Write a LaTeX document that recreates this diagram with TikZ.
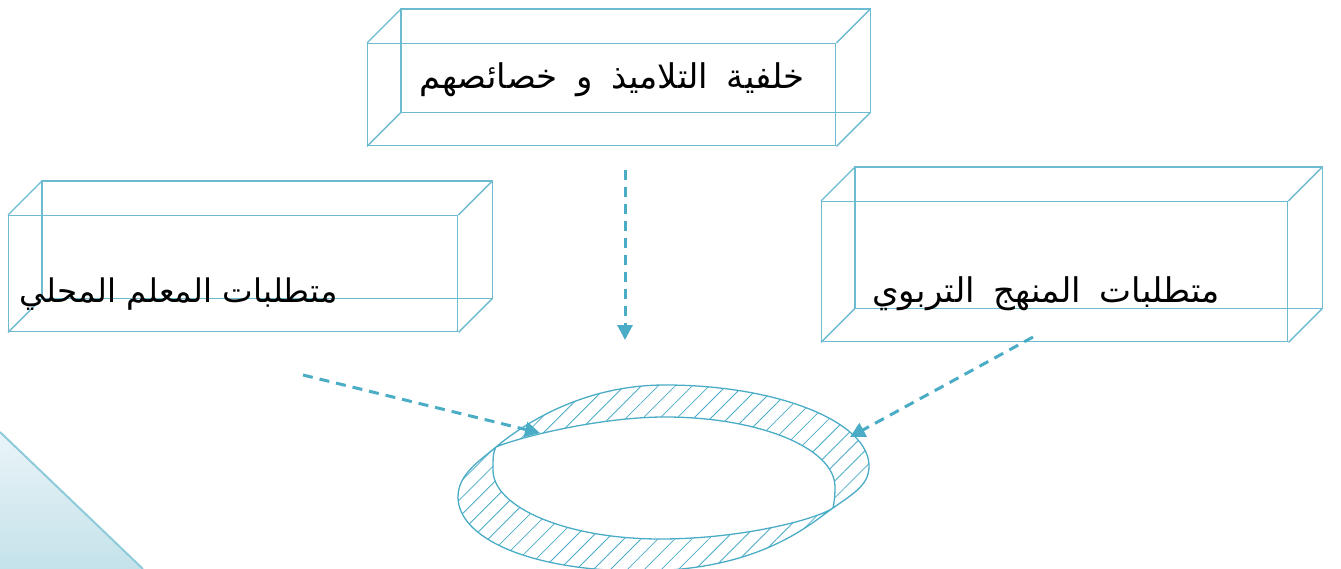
\documentclass[tikz,border=0pt]{standalone}
\usepackage{fontspec}
\newfontfamily\arabicfont[Script=Arabic]{DejaVu Sans}
\TeXXeTstate=1
\usetikzlibrary{arrows.meta,patterns.meta,calc}
\definecolor{acc}{HTML}{4BACC6}
\definecolor{edgec}{HTML}{6CBBD1}
\definecolor{triA}{HTML}{EAF4F8}
\definecolor{triB}{HTML}{C4E2EA}
\definecolor{triE}{HTML}{8DCBDA}
\newcommand\prismbox[5]{% name, x, y, w, h
  \node[boxface, minimum width=#4pt, minimum height=#5pt, anchor=north west] (#1) at (#2,#3) {};
  \draw[boxedge] ($(#1.north west)+(34,-34)$) rectangle ($(#1.south east)+(34,-34)$);
  \foreach \c in {north west,north east,south west,south east}
    \draw[boxedge] (#1.\c) -- ($(#1.\c)+(34,-34)$);
}
\newcommand\wgap{\hspace{0.55em}}
\begin{document}
\begin{tikzpicture}[x=1pt,y=-1pt,
  boxface/.style={draw=edgec, line width=1.4pt, inner sep=0pt, fill=none},
  boxedge/.style={draw=edgec, line width=1.4pt},
  label/.style={font=\arabicfont\fontsize{34}{40}\selectfont, inner sep=0pt, anchor=base east},
  flow/.style={draw=acc, line width=3pt, dash pattern=on 10pt off 7pt, -{Triangle[length=15pt,width=15pt]}},
  ringline/.style={draw=acc, line width=1.3pt}]
\useasboundingbox (0,0) rectangle (1341,569);
% corner triangle
\shade[top color=triA, bottom color=triB] (0,432) -- (143,569) -- (0,569) -- cycle;
\draw[triE, line width=2pt] (0,432) -- (143,569);
% boxes
\prismbox{topbox}{367}{43}{468}{102}
\prismbox{leftbox}{8}{215}{449}{116}
\prismbox{rightbox}{821}{201}{466}{140}
% texts
\node[label] (toptext) at (805,89) {\beginR خلفية\wgap التلاميذ\wgap و\wgap خصائصهم\endR};
\node[label, font=\arabicfont\fontsize{32.5}{38}\selectfont] (lefttext) at (338,302) {\beginR متطلبات المعلم المحلي\endR};
\node[label] (righttext) at (1220,302) {\beginR متطلبات\wgap المنهج\wgap التربوي\endR};
% ring: twisted hatched band
\path[ringline, pattern={Lines[angle=45,distance=12pt,line width=0.8pt]}, pattern color=acc, even odd rule]
  % outer edge
  (665,385) .. controls (778,385) and (869,422) .. (869,466)
  .. controls (869,484) and (856,492) .. (833,508)
  .. controls (810,524) and (760,571) .. (640,571)
  .. controls (530,571) and (458,538) .. (458,497)
  .. controls (458,475) and (478,462) .. (496,447)
  .. controls (514,432) and (575,385) .. (665,385) -- cycle
  % inner edge
  (665,417) .. controls (759,417) and (835,448) .. (835,487)
  .. controls (835,497) and (834,503) .. (833,508)
  .. controls (815,520) and (740,539) .. (660,539)
  .. controls (568,539) and (493,508) .. (493,470)
  .. controls (493,458) and (493,452) .. (496,447)
  .. controls (520,437) and (600,417) .. (665,417) -- cycle;
% arrows
\coordinate (s1) at (625,170);
\coordinate (e1) at (625,340);
\coordinate (s2) at (303,375);
\coordinate (e2) at (540,433);
\coordinate (s3) at (1033,337);
\coordinate (e3) at (850,437);
\draw[flow] (s1) -- (e1);
\draw[flow] (s2) -- (e2);
\draw[flow] (s3) -- (e3);
\end{tikzpicture}
\end{document}
